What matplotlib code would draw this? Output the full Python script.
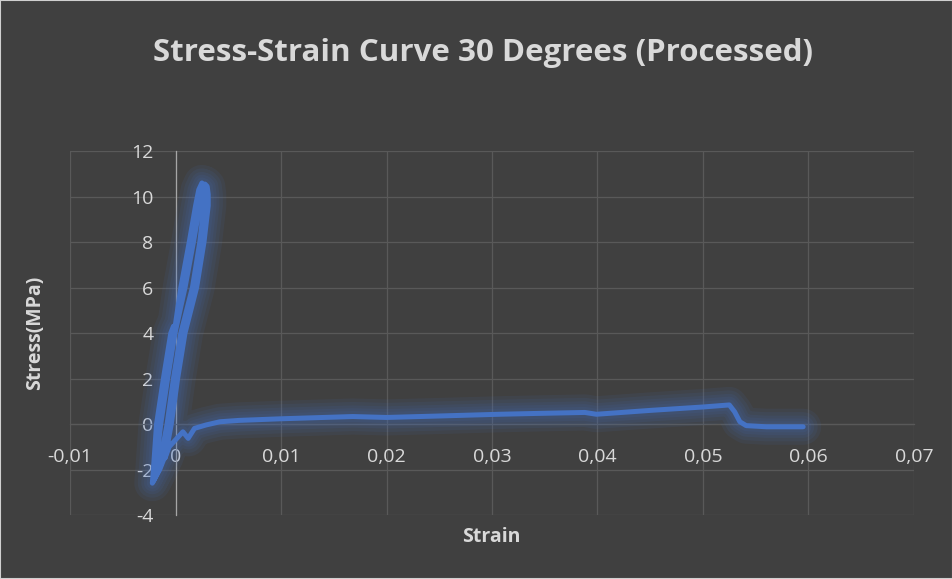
import matplotlib
matplotlib.use("Agg")
import matplotlib.pyplot as plt
import matplotlib.patheffects as pe
from matplotlib.ticker import FuncFormatter

# data (strain, stress in MPa): two load cycles, then the tail
strain = [-0.0009, -0.0015,
          # cycle 1
          -0.0022, -0.0021, -0.0018, -0.00115, -0.00045, -0.0002, -0.0001, 0.0005,
          0.0013, 0.0019, 0.0022, 0.0025, 0.0027, 0.0028, 0.0027, 0.0023,
          0.0016, 0.0005, -0.0002, -0.0008, -0.0012, -0.0014,
          # cycle 2
          -0.0021, -0.0019, -0.0014, -0.00075, -0.00005, 0.0009, 0.0017, 0.0023,
          0.0026, 0.0028, 0.0030, 0.0031, 0.0031, 0.0027, 0.0020, 0.0009,
          0.0002, -0.0004, -0.0008, -0.0010,
          # tail
          -0.0006, 0.0007, 0.0012, 0.0018, 0.0029, 0.0042, 0.0060, 0.0099,
          0.0168, 0.0200, 0.0247, 0.0307, 0.0336, 0.0388, 0.0399, 0.0450,
          0.0500, 0.0525, 0.0530, 0.0535, 0.0541, 0.0560, 0.0595]
stress = [-1.3, -2.0,
          -2.6, -2.0, 0.0, 2.0, 4.0, 4.3, 4.1, 6.0,
          8.0, 9.6, 10.3, 10.6, 10.5, 10.2, 9.6, 8.0,
          6.0, 4.0, 2.0, 0.0, -1.0, -1.8,
          -2.5, -2.0, 0.0, 2.0, 4.0, 6.0, 8.0, 9.6,
          10.3, 10.55, 10.45, 10.1, 9.6, 8.0, 6.0, 4.0,
          2.0, 0.0, -1.0, -1.5,
          -1.0, -0.34, -0.63, -0.19, -0.04, 0.1, 0.16, 0.23,
          0.33, 0.29, 0.35, 0.43, 0.46, 0.51, 0.43, 0.60,
          0.75, 0.84, 0.54, 0.10, -0.07, -0.12, -0.12]

x_ticks = [-0.01, 0, 0.01, 0.02, 0.03, 0.04, 0.05, 0.06, 0.07]
y_ticks = [-4, -2, 0, 2, 4, 6, 8, 10, 12]

bg = '#404040'
txt = '#d9d9d9'
grid = '#595959'
blue = '#4472C4'

plt.rcParams['font.family'] = ['Open Sans', 'DejaVu Sans']

fig = plt.figure(figsize=(9.53, 5.79), dpi=100, facecolor=bg)
ax = fig.add_axes([0.0735, 0.1105, 0.8855, 0.6285])
ax.set_facecolor(bg)

# soft glow around the line
glow = [pe.Stroke(linewidth=w, foreground=blue, alpha=0.09, capstyle='round',
                  joinstyle='round') for w in (26, 21, 16, 12, 8)]
ax.plot(strain, stress, color=blue, lw=3.6, solid_capstyle='round',
        solid_joinstyle='round', zorder=3,
        path_effects=glow + [pe.Normal()])

ax.set_xlim(-0.01, 0.07)
ax.set_ylim(-4, 12)
ax.set_xticks(x_ticks)
ax.set_yticks(y_ticks)
fmt = FuncFormatter(lambda v, p: f"{v:g}".replace('.', ','))
ax.xaxis.set_major_formatter(fmt)
ax.yaxis.set_major_formatter(fmt)

ax.grid(True, color=grid, lw=0.9)
ax.set_axisbelow(True)
for s in ('top', 'right'):
    ax.spines[s].set_visible(False)
ax.spines['left'].set_position(('data', 0))
ax.spines['left'].set_color('#a6a6a6')
ax.spines['left'].set_linewidth(0.9)
ax.spines['bottom'].set_position(('data', 0))
ax.spines['bottom'].set_color(grid)
ax.spines['bottom'].set_linewidth(0.9)
ax.tick_params(axis='x', length=0, pad=17, labelsize=14, labelcolor=txt)
ax.tick_params(axis='y', length=0, pad=16, labelsize=14, labelcolor=txt)

fig.text(0.507, 0.908, 'Stress-Strain Curve 30 Degrees (Processed)', ha='center',
         va='center', fontsize=22.5, fontweight='bold', color=txt)
fig.text(0.037, 0.425, 'Stress(MPa)', rotation=90, ha='center', va='center',
         fontsize=14, fontweight='bold', color=txt)
fig.text(0.516, 0.072, 'Strain', ha='center', va='center',
         fontsize=14, fontweight='bold', color=txt)

fig.patches.append(plt.Rectangle((0, 0), 1, 1, transform=fig.transFigure,
                                 fill=False, edgecolor='#d0d0d0', lw=1.5))

fig.savefig('out.png', dpi=100, facecolor=bg)
